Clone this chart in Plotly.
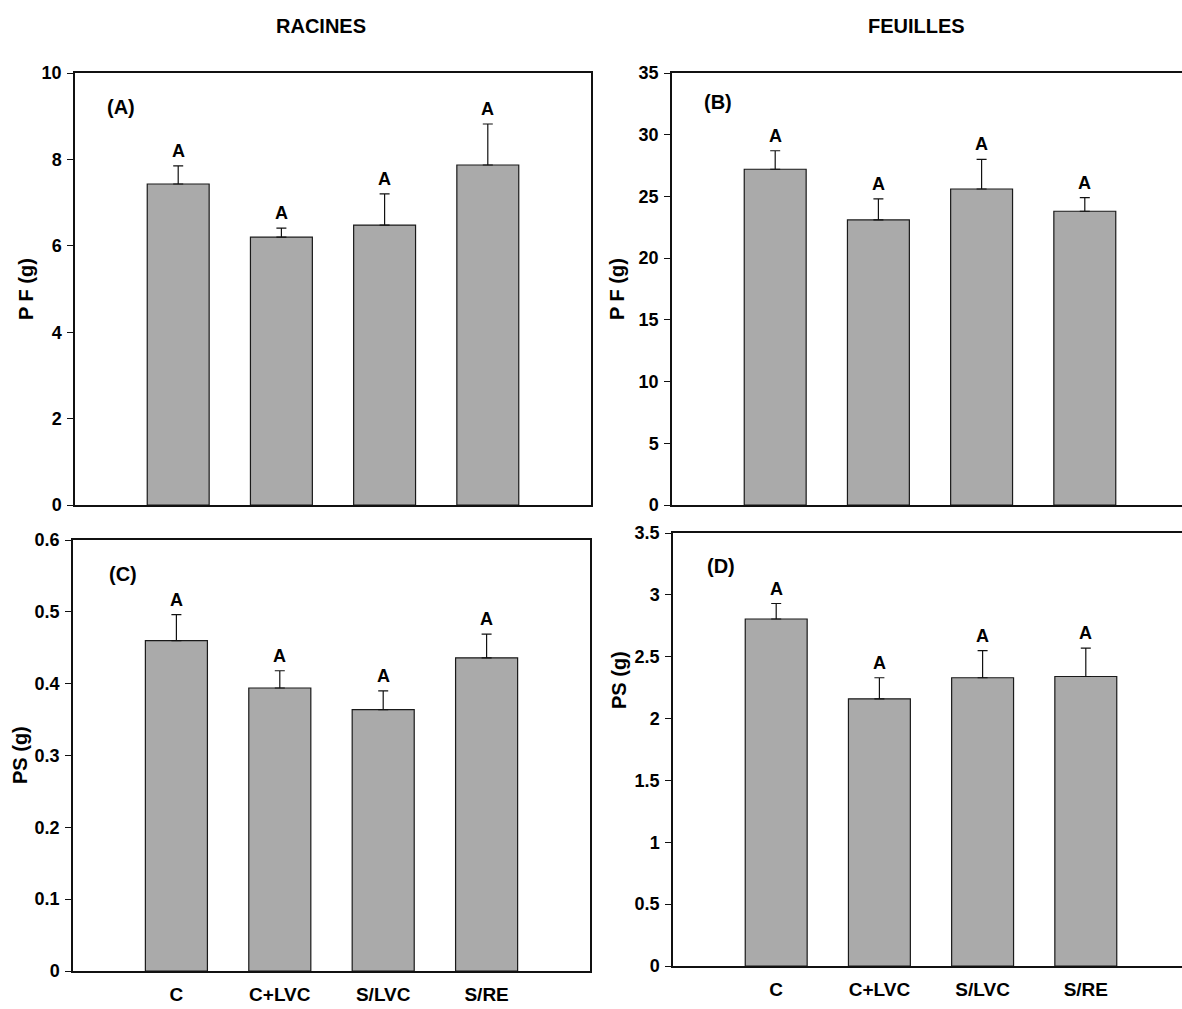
import plotly.graph_objects as go

# Treatments
categories = ["C", "C+LVC", "S/LVC", "S/RE"]

# Fresh weight (PF) and dry weight (PS), roots and leaves: means and upper error
pf_racines = [7.43, 6.20, 6.48, 7.87]
pf_racines_err = [0.42, 0.21, 0.72, 0.95]
pf_feuilles = [27.2, 23.1, 25.6, 23.8]
pf_feuilles_err = [1.5, 1.7, 2.4, 1.1]
ps_racines = [0.460, 0.394, 0.364, 0.436]
ps_racines_err = [0.036, 0.024, 0.026, 0.033]
ps_feuilles = [2.805, 2.16, 2.33, 2.34]
ps_feuilles_err = [0.125, 0.17, 0.22, 0.23]

# Significance letters
letters_a = ["A", "A", "A", "A"]
letters_b = ["A", "A", "A", "A"]
letters_c = ["A", "A", "A", "A"]
letters_d = ["A", "A", "A", "A"]

W, H = 1182, 1009
FONT = "Liberation Sans, Arial, Helvetica, sans-serif"
BAR_COLOR = "#aaaaaa"

xpos = list(range(len(categories)))

panels = [
    # (values, errors, letters, xaxis id, yaxis id, panel label)
    (pf_racines, pf_racines_err, letters_a, "x", "y", "(A)"),
    (pf_feuilles, pf_feuilles_err, letters_b, "x2", "y2", "(B)"),
    (ps_racines, ps_racines_err, letters_c, "x3", "y3", "(C)"),
    (ps_feuilles, ps_feuilles_err, letters_d, "x4", "y4", "(D)"),
]

fig = go.Figure()
annotations = []
for vals, errs, lets, xa, ya, lab in panels:
    fig.add_trace(go.Bar(
        x=xpos, y=vals, xaxis=xa, yaxis=ya, width=0.6,
        marker=dict(color=BAR_COLOR, line=dict(color="#1a1a1a", width=1.2)),
        error_y=dict(type="data", symmetric=False, array=errs,
                     arrayminus=[0] * len(errs), color="#111111",
                     thickness=1.2, width=5),
        showlegend=False, hoverinfo="skip",
    ))
    for xi, v, e, t in zip(xpos, vals, errs, lets):
        annotations.append(dict(
            x=xi, y=v + e, xref=xa, yref=ya, text=t, showarrow=False,
            xanchor="center", yanchor="bottom", yshift=3,
            font=dict(family=FONT, size=18, color="black", weight="bold"),
        ))


def px_x(p):
    return p / W


def px_y(p):
    return 1 - p / H


axis_font = dict(family=FONT, size=18, color="black", weight="bold")
cat_font = dict(family=FONT, size=19, color="black", weight="bold")


def yaxis(dom, rng, dtick, mirror, xanchor):
    return dict(
        domain=[px_y(dom[1]), px_y(dom[0])], range=rng, dtick=dtick,
        anchor=xanchor, showline=True, linecolor="#111111", linewidth=1.5,
        mirror=mirror, ticks="outside", ticklen=6, tickwidth=1,
        tickcolor="#111111", showgrid=False, zeroline=False,
        tickfont=axis_font, ticklabelstandoff=2, automargin=False,
    )


def xaxis(dom, rng, yanchor, labels):
    d = dict(
        domain=[px_x(dom[0]), min(1.0, px_x(dom[1]))], range=rng,
        anchor=yanchor, showline=True, linecolor="#111111", linewidth=1.8,
        mirror=True, ticks="", showgrid=False, zeroline=False,
        tickvals=xpos, ticktext=categories, showticklabels=labels,
        tickfont=cat_font, automargin=False,
    )
    if labels:
        d["ticklabelstandoff"] = 5
    return d


fig.update_layout(
    width=W, height=H, margin=dict(l=0, r=0, t=0, b=0, pad=0),
    plot_bgcolor="white", paper_bgcolor="white",
    xaxis=xaxis((75, 591), [-1, 4], "y", False),
    yaxis=yaxis((73, 505), [0, 10], 2, True, "x"),
    xaxis2=xaxis((672, 1182), [-1, -1 + 510 / 103.2], "y2", False),
    yaxis2=yaxis((73, 505), [0, 35], 5, False, "x2"),
    xaxis3=xaxis((73, 590), [-1, 4], "y3", True),
    yaxis3=yaxis((540, 971), [0, 0.6], 0.1, True, "x3"),
    xaxis4=xaxis((673, 1182), [-1, -1 + 509 / 103.2], "y4", True),
    yaxis4=yaxis((533, 966), [0, 3.5], 0.5, False, "x4"),
)

title_font = dict(family=FONT, size=20, color="black", weight="bold")
ytitle_font = dict(family=FONT, size=20, color="black", weight="bold")
label_font = dict(family=FONT, size=20, color="black", weight="bold")


def paper_text(txt, cx, cy, font, angle=0):
    return dict(x=px_x(cx), y=px_y(cy), xref="paper", yref="paper",
                xanchor="center", yanchor="middle", text=txt,
                showarrow=False, textangle=angle, font=font)


# Column headings
annotations.append(paper_text("RACINES", 321, 26, title_font))
annotations.append(paper_text("FEUILLES", 916, 26, title_font))

# Y-axis titles
annotations.append(paper_text("P F (g)", 26, 289, ytitle_font, -90))
annotations.append(paper_text("P F (g)", 617, 289, ytitle_font, -90))
annotations.append(paper_text("PS (g)", 20, 755, ytitle_font, -90))
annotations.append(paper_text("PS (g)", 619, 680, ytitle_font, -90))

# Panel labels
for (_, _, _, _, _, lab), (cx, cy) in zip(panels, ((121, 107), (718, 102),
                                                   (123, 574), (721, 566))):
    annotations.append(paper_text(lab, cx, cy, label_font))

fig.update_layout(annotations=annotations)
fig.write_html("out.html")
